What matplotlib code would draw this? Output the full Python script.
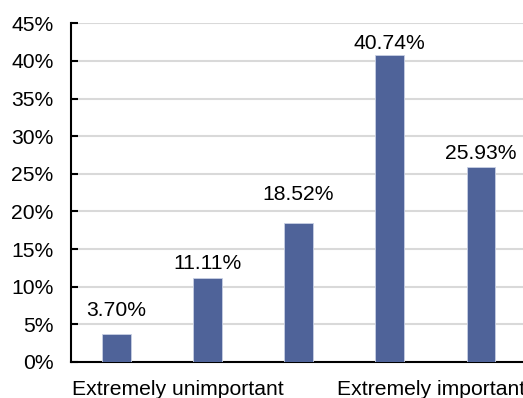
import matplotlib
matplotlib.use("Agg")
import matplotlib.pyplot as plt
from matplotlib.ticker import FuncFormatter, MultipleLocator

# Share of respondents for each importance rating (percent)
ratings = ["1", "2", "3", "4", "5"]
shares = [3.70, 11.11, 18.52, 40.74, 25.93]
value_labels = ["3.70%", "11.11%", "18.52%", "40.74%", "25.93%"]
scale_ends = ["Extremely unimportant", "Extremely important"]

# Hand-placed lift of each value label above its bar (pixels)
label_lift = [18, 9, 23, 6, 8]

plt.rcParams["font.family"] = ["Liberation Sans", "DejaVu Sans"]
FS = 15.2
plt.rcParams["font.size"] = FS

fig = plt.figure(figsize=(5.23, 3.98), dpi=100)
ax = fig.add_axes([0.1358, 0.0905, 0.8702, 0.851])

x = list(range(len(ratings)))
bars = ax.bar(x, shares, width=0.31, color="#4F6399",
              edgecolor="#C8D0E4", linewidth=0.6, zorder=3)

for b, lab, lift in zip(bars, value_labels, label_lift):
    ax.annotate(lab, (b.get_x() + b.get_width() / 2, b.get_height()),
                xytext=(0, lift), textcoords="offset pixels",
                ha="center", va="baseline", fontsize=FS, color="black")

ax.set_xlim(-0.5, len(ratings) - 0.5)
ax.set_ylim(0, 45)
ax.yaxis.set_major_locator(MultipleLocator(5))
ax.yaxis.set_major_formatter(FuncFormatter(lambda v, p: f"{v:.0f}%"))
ax.grid(axis="y", color="#D9D9D9", linewidth=1.5, zorder=0)
ax.set_axisbelow(True)

# End-of-scale captions under the axis
ax.set_xticks([0.67, 3.46])
ax.set_xticklabels(scale_ends)
ax.tick_params(axis="x", length=0, pad=13, labelsize=FS)
ax.tick_params(axis="y", direction="in", length=5, width=1.5, pad=12.5,
               labelsize=FS)

for side in ("top", "right"):
    ax.spines[side].set_visible(False)
for side in ("left", "bottom"):
    ax.spines[side].set_linewidth(1.5)
    ax.spines[side].set_color("black")

fig.savefig("out.png", dpi=100)
